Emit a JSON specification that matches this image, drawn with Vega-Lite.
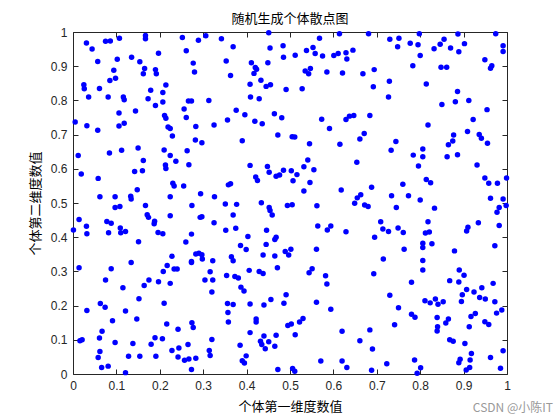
{
"$schema":"https://vega.github.io/schema/vega-lite/v6.json",
"width":434,"height":342,
"autosize":{"type":"none"},
"padding":{"left":73,"top":32,"right":53,"bottom":46},
"background":"white",
"title":{"text":"随机生成个体散点图","font":"Noto Sans CJK SC","fontSize":13,"fontWeight":"normal","color":"#000000","offset":0},
"config":{"view":{"stroke":"#262626","strokeWidth":1},
"axis":{"grid":false,"domain":false,"tickColor":"#262626","tickSize":-5,"labelColor":"#262626","labelFont":"Liberation Sans","labelFontSize":12,"labelPadding":11,"titleFont":"Noto Sans CJK SC","titleFontSize":13,"titleFontWeight":"normal","titleColor":"#000000","values":[0,0.1,0.2,0.3,0.4,0.5,0.6,0.7,0.8,0.9,1],"format":"~g","labelFlush":false,"labelOverlap":false}},
"datasets":{"pts":[
{"x":0.031,"y":0.968},{"x":0.044,"y":0.950},{"x":0.075,"y":0.973},{"x":0.086,"y":0.974},{"x":0.107,"y":0.982},{"x":0.167,"y":0.990},{"x":0.167,"y":0.980},{"x":0.057,"y":0.914},{"x":0.102,"y":0.920},{"x":0.135,"y":0.926},{"x":0.154,"y":0.913},{"x":0.197,"y":0.938},{"x":0.094,"y":0.888},{"x":0.165,"y":0.893},{"x":0.162,"y":0.878},{"x":0.190,"y":0.890},{"x":0.192,"y":0.878},{"x":0.085,"y":0.858},{"x":0.098,"y":0.865},{"x":0.025,"y":0.846},{"x":0.026,"y":0.834},{"x":0.061,"y":0.835},{"x":0.214,"y":0.845},{"x":0.179,"y":0.830},{"x":0.207,"y":0.823},{"x":0.036,"y":0.810},{"x":0.081,"y":0.810},{"x":0.116,"y":0.810},{"x":0.118,"y":0.802},{"x":0.173,"y":0.805},{"x":0.207,"y":0.795},{"x":0.190,"y":0.785},{"x":0.144,"y":0.769},{"x":0.106,"y":0.763},{"x":0.211,"y":0.756},{"x":0.214,"y":0.748},{"x":0.005,"y":0.737},{"x":0.032,"y":0.726},{"x":0.106,"y":0.725},{"x":0.118,"y":0.733},{"x":0.057,"y":0.713},{"x":0.219,"y":0.722},{"x":0.224,"y":0.718},{"x":0.229,"y":0.696},
{"x":0.252,"y":0.984},{"x":0.261,"y":0.945},{"x":0.289,"y":0.976},{"x":0.306,"y":0.989},{"x":0.342,"y":0.980},{"x":0.369,"y":0.957},{"x":0.451,"y":0.998},{"x":0.454,"y":0.953},{"x":0.484,"y":0.960},{"x":0.485,"y":0.926},{"x":0.277,"y":0.909},{"x":0.280,"y":0.883},{"x":0.353,"y":0.915},{"x":0.363,"y":0.873},{"x":0.411,"y":0.910},{"x":0.420,"y":0.896},{"x":0.423,"y":0.891},{"x":0.417,"y":0.879},{"x":0.449,"y":0.910},{"x":0.433,"y":0.859},{"x":0.408,"y":0.847},{"x":0.445,"y":0.841},{"x":0.455,"y":0.846},{"x":0.491,"y":0.832},{"x":0.409,"y":0.810},{"x":0.429,"y":0.805},{"x":0.266,"y":0.798},{"x":0.273,"y":0.798},{"x":0.313,"y":0.800},{"x":0.256,"y":0.775},{"x":0.261,"y":0.750},{"x":0.376,"y":0.771},{"x":0.396,"y":0.758},{"x":0.356,"y":0.743},{"x":0.419,"y":0.739},{"x":0.436,"y":0.732},{"x":0.464,"y":0.761},{"x":0.481,"y":0.749},{"x":0.283,"y":0.724},{"x":0.325,"y":0.728},{"x":0.282,"y":0.684},{"x":0.297,"y":0.676},{"x":0.390,"y":0.682},{"x":0.472,"y":0.699},
{"x":0.614,"y":0.995},{"x":0.681,"y":0.995},{"x":0.568,"y":0.982},{"x":0.730,"y":0.979},{"x":0.751,"y":0.982},{"x":0.748,"y":0.957},{"x":0.538,"y":0.946},{"x":0.553,"y":0.955},{"x":0.558,"y":0.937},{"x":0.512,"y":0.932},{"x":0.575,"y":0.930},{"x":0.601,"y":0.931},{"x":0.611,"y":0.937},{"x":0.629,"y":0.939},{"x":0.631,"y":0.921},{"x":0.645,"y":0.947},{"x":0.535,"y":0.886},{"x":0.547,"y":0.893},{"x":0.543,"y":0.878},{"x":0.585,"y":0.883},{"x":0.621,"y":0.880},{"x":0.668,"y":0.878},{"x":0.694,"y":0.890},{"x":0.729,"y":0.856},{"x":0.692,"y":0.840},{"x":0.727,"y":0.810},{"x":0.528,"y":0.834},{"x":0.573,"y":0.745},{"x":0.591,"y":0.718},{"x":0.629,"y":0.744},{"x":0.637,"y":0.754},{"x":0.647,"y":0.756},{"x":0.684,"y":0.756},{"x":0.505,"y":0.694},{"x":0.511,"y":0.693},{"x":0.545,"y":0.673},{"x":0.615,"y":0.672},{"x":0.661,"y":0.687},{"x":0.671,"y":0.703},{"x":0.744,"y":0.680},
{"x":0.798,"y":0.995},{"x":0.887,"y":0.994},{"x":0.974,"y":0.995},{"x":0.777,"y":0.967},{"x":0.795,"y":0.963},{"x":0.846,"y":0.964},{"x":0.855,"y":0.979},{"x":0.832,"y":0.951},{"x":0.870,"y":0.953},{"x":0.889,"y":0.942},{"x":0.902,"y":0.966},{"x":0.991,"y":0.960},{"x":0.991,"y":0.943},{"x":0.800,"y":0.931},{"x":0.949,"y":0.919},{"x":0.965,"y":0.901},{"x":0.962,"y":0.894},{"x":0.783,"y":0.901},{"x":0.848,"y":0.897},{"x":0.861,"y":0.897},{"x":0.814,"y":0.848},{"x":0.886,"y":0.826},{"x":0.850,"y":0.788},{"x":0.881,"y":0.796},{"x":0.912,"y":0.800},{"x":0.954,"y":0.773},{"x":0.922,"y":0.744},{"x":0.818,"y":0.728},{"x":0.909,"y":0.709},{"x":0.877,"y":0.699},{"x":0.875,"y":0.681},{"x":0.865,"y":0.670},{"x":0.936,"y":0.700},{"x":0.941,"y":0.689},{"x":0.955,"y":0.675},
{"x":0.012,"y":0.639},{"x":0.084,"y":0.646},{"x":0.112,"y":0.654},{"x":0.150,"y":0.661},{"x":0.210,"y":0.655},{"x":0.224,"y":0.639},{"x":0.237,"y":0.622},{"x":0.162,"y":0.624},{"x":0.213,"y":0.611},{"x":0.214,"y":0.601},{"x":0.019,"y":0.585},{"x":0.058,"y":0.572},{"x":0.142,"y":0.592},{"x":0.160,"y":0.594},{"x":0.230,"y":0.558},{"x":0.233,"y":0.550},{"x":0.148,"y":0.539},{"x":0.062,"y":0.518},{"x":0.097,"y":0.518},{"x":0.133,"y":0.520},{"x":0.134,"y":0.512},{"x":0.224,"y":0.518},{"x":0.097,"y":0.487},{"x":0.108,"y":0.490},{"x":0.167,"y":0.493},{"x":0.171,"y":0.466},{"x":0.174,"y":0.458},{"x":0.188,"y":0.447},{"x":0.187,"y":0.439},{"x":0.224,"y":0.463},{"x":0.014,"y":0.452},{"x":0.031,"y":0.432},{"x":0.032,"y":0.410},{"x":0.078,"y":0.446},{"x":0.088,"y":0.441},{"x":0.082,"y":0.413},{"x":0.109,"y":0.427},{"x":0.110,"y":0.413},{"x":0.121,"y":0.417},{"x":0.001,"y":0.421},{"x":0.196,"y":0.414},{"x":0.207,"y":0.410},{"x":0.151,"y":0.387},{"x":0.228,"y":0.344},
{"x":0.263,"y":0.653},{"x":0.267,"y":0.612},{"x":0.408,"y":0.610},{"x":0.448,"y":0.607},{"x":0.452,"y":0.590},{"x":0.468,"y":0.578},{"x":0.476,"y":0.582},{"x":0.485,"y":0.596},{"x":0.421,"y":0.576},{"x":0.425,"y":0.566},{"x":0.255,"y":0.550},{"x":0.358,"y":0.553},{"x":0.363,"y":0.556},{"x":0.294,"y":0.527},{"x":0.326,"y":0.518},{"x":0.274,"y":0.493},{"x":0.351,"y":0.497},{"x":0.377,"y":0.496},{"x":0.434,"y":0.501},{"x":0.452,"y":0.487},{"x":0.454,"y":0.478},{"x":0.459,"y":0.465},{"x":0.369,"y":0.465},{"x":0.494,"y":0.493},{"x":0.293,"y":0.458},{"x":0.297,"y":0.460},{"x":0.325,"y":0.442},{"x":0.352,"y":0.420},{"x":0.375,"y":0.426},{"x":0.273,"y":0.409},{"x":0.260,"y":0.386},{"x":0.403,"y":0.402},{"x":0.446,"y":0.420},{"x":0.468,"y":0.400},{"x":0.465,"y":0.393},{"x":0.386,"y":0.376},{"x":0.399,"y":0.364},{"x":0.445,"y":0.379},{"x":0.283,"y":0.351},{"x":0.290,"y":0.353},{"x":0.297,"y":0.349},{"x":0.298,"y":0.336},{"x":0.273,"y":0.329},{"x":0.322,"y":0.331},{"x":0.365,"y":0.343},{"x":0.369,"y":0.331},{"x":0.438,"y":0.348},{"x":0.465,"y":0.345},{"x":0.489,"y":0.358},{"x":0.497,"y":0.348},
{"x":0.733,"y":0.654},{"x":0.541,"y":0.626},{"x":0.532,"y":0.606},{"x":0.555,"y":0.597},{"x":0.503,"y":0.594},{"x":0.516,"y":0.583},{"x":0.507,"y":0.565},{"x":0.546,"y":0.560},{"x":0.654,"y":0.619},{"x":0.532,"y":0.535},{"x":0.618,"y":0.538},{"x":0.688,"y":0.546},{"x":0.505,"y":0.495},{"x":0.562,"y":0.492},{"x":0.663,"y":0.524},{"x":0.655,"y":0.515},{"x":0.649,"y":0.499},{"x":0.672,"y":0.494},{"x":0.680,"y":0.490},{"x":0.734,"y":0.521},{"x":0.745,"y":0.487},{"x":0.564,"y":0.433},{"x":0.594,"y":0.433},{"x":0.586,"y":0.421},{"x":0.629,"y":0.416},{"x":0.709,"y":0.445},{"x":0.714,"y":0.424},{"x":0.727,"y":0.417},{"x":0.749,"y":0.427},{"x":0.695,"y":0.400},{"x":0.502,"y":0.365},{"x":0.561,"y":0.365},{"x":0.715,"y":0.336},
{"x":0.806,"y":0.658},{"x":0.784,"y":0.640},{"x":0.806,"y":0.635},{"x":0.862,"y":0.635},{"x":0.886,"y":0.641},{"x":0.796,"y":0.608},{"x":0.931,"y":0.611},{"x":0.814,"y":0.569},{"x":0.824,"y":0.559},{"x":0.760,"y":0.555},{"x":0.949,"y":0.573},{"x":0.958,"y":0.558},{"x":0.978,"y":0.558},{"x":0.999,"y":0.573},{"x":0.773,"y":0.521},{"x":0.800,"y":0.509},{"x":0.833,"y":0.485},{"x":0.962,"y":0.514},{"x":0.991,"y":0.512},{"x":0.982,"y":0.487},{"x":0.998,"y":0.493},{"x":0.977,"y":0.473},{"x":0.818,"y":0.445},{"x":0.934,"y":0.442},{"x":0.910,"y":0.429},{"x":0.907,"y":0.418},{"x":0.982,"y":0.434},{"x":0.761,"y":0.414},{"x":0.812,"y":0.412},{"x":0.821,"y":0.415},{"x":0.806,"y":0.382},{"x":0.806,"y":0.370},{"x":0.827,"y":0.381},{"x":0.763,"y":0.365},{"x":0.879,"y":0.360},{"x":0.972,"y":0.375},{"x":0.806,"y":0.332},
{"x":0.014,"y":0.311},{"x":0.088,"y":0.308},{"x":0.134,"y":0.326},{"x":0.217,"y":0.317},{"x":0.208,"y":0.300},{"x":0.233,"y":0.307},{"x":0.240,"y":0.307},{"x":0.075,"y":0.275},{"x":0.175,"y":0.275},{"x":0.164,"y":0.259},{"x":0.197,"y":0.270},{"x":0.224,"y":0.265},{"x":0.115,"y":0.252},{"x":0.152,"y":0.220},{"x":0.063,"y":0.206},{"x":0.074,"y":0.195},{"x":0.210,"y":0.207},{"x":0.032,"y":0.186},{"x":0.121,"y":0.184},{"x":0.091,"y":0.156},{"x":0.147,"y":0.161},{"x":0.216,"y":0.146},{"x":0.242,"y":0.131},{"x":0.067,"y":0.125},{"x":0.016,"y":0.097},{"x":0.021,"y":0.100},{"x":0.061,"y":0.105},{"x":0.097,"y":0.092},{"x":0.138,"y":0.089},{"x":0.180,"y":0.087},{"x":0.189,"y":0.106},{"x":0.206,"y":0.103},{"x":0.062,"y":0.066},{"x":0.058,"y":0.048},{"x":0.128,"y":0.052},{"x":0.154,"y":0.052},{"x":0.191,"y":0.052},{"x":0.228,"y":0.069},{"x":0.242,"y":0.050},{"x":0.244,"y":0.076},{"x":0.066,"y":0.019},{"x":0.081,"y":0.023},{"x":0.121,"y":0.004},
{"x":0.273,"y":0.326},{"x":0.316,"y":0.299},{"x":0.304,"y":0.275},{"x":0.322,"y":0.275},{"x":0.354,"y":0.288},{"x":0.373,"y":0.285},{"x":0.381,"y":0.281},{"x":0.406,"y":0.303},{"x":0.429,"y":0.300},{"x":0.438,"y":0.294},{"x":0.471,"y":0.311},{"x":0.320,"y":0.240},{"x":0.387,"y":0.254},{"x":0.394,"y":0.243},{"x":0.491,"y":0.232},{"x":0.356,"y":0.206},{"x":0.369,"y":0.203},{"x":0.408,"y":0.205},{"x":0.440,"y":0.202},{"x":0.456,"y":0.218},{"x":0.486,"y":0.207},{"x":0.357,"y":0.180},{"x":0.358,"y":0.152},{"x":0.422,"y":0.161},{"x":0.422,"y":0.152},{"x":0.274,"y":0.150},{"x":0.277,"y":0.136},{"x":0.495,"y":0.142},{"x":0.408,"y":0.121},{"x":0.320,"y":0.101},{"x":0.440,"y":0.111},{"x":0.468,"y":0.113},{"x":0.265,"y":0.086},{"x":0.314,"y":0.069},{"x":0.316,"y":0.054},{"x":0.385,"y":0.084},{"x":0.432,"y":0.096},{"x":0.435,"y":0.086},{"x":0.451,"y":0.094},{"x":0.443,"y":0.074},{"x":0.465,"y":0.081},{"x":0.257,"y":0.040},{"x":0.267,"y":0.044},{"x":0.283,"y":0.046},{"x":0.390,"y":0.039},{"x":0.399,"y":0.053},{"x":0.395,"y":0.032},{"x":0.273,"y":0.013},{"x":0.472,"y":0.013},
{"x":0.551,"y":0.308},{"x":0.544,"y":0.296},{"x":0.582,"y":0.287},{"x":0.585,"y":0.263},{"x":0.693,"y":0.293},{"x":0.561,"y":0.210},{"x":0.594,"y":0.189},{"x":0.730,"y":0.230},{"x":0.750,"y":0.194},{"x":0.503,"y":0.146},{"x":0.522,"y":0.152},{"x":0.530,"y":0.162},{"x":0.512,"y":0.115},{"x":0.620,"y":0.125},{"x":0.684,"y":0.129},{"x":0.741,"y":0.144},{"x":0.661,"y":0.097},{"x":0.690,"y":0.073},{"x":0.571,"y":0.038},{"x":0.620,"y":0.038},{"x":0.631,"y":0.019},{"x":0.723,"y":0.030},{"x":0.506,"y":0.016},{"x":0.511,"y":0.008},{"x":0.688,"y":0.011},
{"x":0.806,"y":0.304},{"x":0.780,"y":0.268},{"x":0.868,"y":0.273},{"x":0.889,"y":0.269},{"x":0.890,"y":0.304},{"x":0.901,"y":0.289},{"x":0.907,"y":0.247},{"x":0.897,"y":0.232},{"x":0.895,"y":0.212},{"x":0.924,"y":0.240},{"x":0.942,"y":0.252},{"x":0.937,"y":0.224},{"x":0.950,"y":0.219},{"x":0.968,"y":0.265},{"x":0.972,"y":0.211},{"x":0.811,"y":0.214},{"x":0.823,"y":0.208},{"x":0.835,"y":0.219},{"x":0.841,"y":0.204},{"x":0.853,"y":0.211},{"x":0.780,"y":0.175},{"x":0.788,"y":0.166},{"x":0.839,"y":0.165},{"x":0.865,"y":0.161},{"x":0.859,"y":0.149},{"x":0.840,"y":0.138},{"x":0.839,"y":0.126},{"x":0.917,"y":0.168},{"x":0.927,"y":0.177},{"x":0.913,"y":0.138},{"x":0.949,"y":0.153},{"x":0.958,"y":0.145},{"x":0.976,"y":0.178},{"x":0.988,"y":0.187},{"x":0.868,"y":0.100},{"x":0.876,"y":0.096},{"x":0.903,"y":0.089},{"x":0.918,"y":0.060},{"x":0.915,"y":0.041},{"x":0.892,"y":0.043},{"x":0.889,"y":0.033},{"x":0.914,"y":0.019},{"x":0.906,"y":0.012},{"x":0.962,"y":0.048},{"x":0.991,"y":0.068},{"x":0.985,"y":0.017},{"x":0.787,"y":0.041},{"x":0.801,"y":0.018},{"x":0.793,"y":0.002}
],
"wm":[{"t":"CSDN @小陈IT","x":1.106,"y":-0.099}]},
"layer":[
{"data":{"name":"pts"},
 "mark":{"type":"circle","size":30,"color":"#0000ff","opacity":1,"clip":false},
 "encoding":{
  "x":{"field":"x","type":"quantitative","scale":{"domain":[0,1],"nice":false,"zero":false},"axis":{"orient":"bottom","title":"个体第一维度数值","titlePadding":9}},
  "y":{"field":"y","type":"quantitative","scale":{"domain":[0,1],"nice":false,"zero":false},"axis":{"orient":"left","title":"个体第二维度数值","titlePadding":8}}}},
{"data":{"name":"pts"},
 "mark":{"type":"circle","size":1,"opacity":0},
 "encoding":{
  "x":{"field":"x","type":"quantitative","scale":{"domain":[0,1],"nice":false,"zero":false},"axis":{"orient":"top","labels":false,"title":null}},
  "y":{"field":"y","type":"quantitative","scale":{"domain":[0,1],"nice":false,"zero":false},"axis":{"orient":"right","labels":false,"title":null}}}},
{"data":{"name":"wm"},
 "mark":{"type":"text","align":"right","baseline":"middle","font":"Noto Sans CJK SC","fontSize":12,"color":"#999999","clip":false},
 "encoding":{"text":{"field":"t"},"x":{"field":"x","type":"quantitative","axis":null},"y":{"field":"y","type":"quantitative","axis":null}}}
],
"resolve":{"axis":{"x":"independent","y":"independent"}}
}
